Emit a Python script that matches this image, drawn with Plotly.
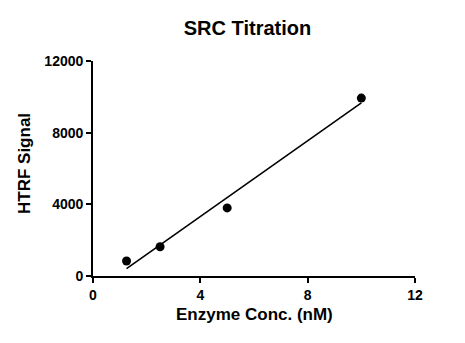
import numpy as np
import plotly.graph_objects as go

conc = [1.25, 2.5, 5, 10]
signal = [840, 1630, 3800, 9930]
x_ticks = [0, 4, 8, 12]
y_ticks = [0, 4000, 8000, 12000]

slope, intercept = np.polyfit(conc, signal, 1)
fit_x = [min(conc), max(conc)]
fit_y = [slope * v + intercept for v in fit_x]

font = "Liberation Sans, Arial, sans-serif"

fig = go.Figure()
fig.add_trace(go.Scatter(x=fit_x, y=fit_y, mode="lines",
                         line=dict(color="black", width=1.6), showlegend=False))
fig.add_trace(go.Scatter(x=conc, y=signal, mode="markers",
                         marker=dict(color="black", size=9), showlegend=False))

axis_common = dict(showline=True, linecolor="black", linewidth=1.8, ticks="outside",
                   ticklen=5, tickwidth=1.8, tickcolor="black", showgrid=False,
                   zeroline=False, tickfont=dict(family=font, size=14, color="black", weight="bold"))

fig.update_layout(
    width=465, height=343,
    margin=dict(l=93, r=50, t=61, b=67),
    paper_bgcolor="white", plot_bgcolor="white",
    title=dict(text="<b>SRC Titration</b>", x=247.5 / 465, xref="container", xanchor="center",
               y=1 - 28 / 343, yanchor="middle",
               font=dict(family=font, size=20, color="black")),
    xaxis=dict(range=[0, 12], tickvals=x_ticks, ticktext=[str(v) for v in x_ticks], **axis_common),
    yaxis=dict(range=[0, 12000], tickvals=y_ticks, ticktext=[str(v) for v in y_ticks], **axis_common),
    annotations=[
        dict(text="<b>Enzyme Conc. (nM)</b>", xref="paper", yref="paper",
             x=(254 - 93) / 322, y=-(314 - 276) / 215, xanchor="center", yanchor="middle",
             showarrow=False, font=dict(family=font, size=17, color="black")),
        dict(text="<b>HTRF Signal</b>", xref="paper", yref="paper", textangle=-90,
             x=-(93 - 24) / 322, y=(276 - 164) / 215, xanchor="center", yanchor="middle",
             showarrow=False, font=dict(family=font, size=17, color="black")),
    ],
)

fig.write_html("out.html")
